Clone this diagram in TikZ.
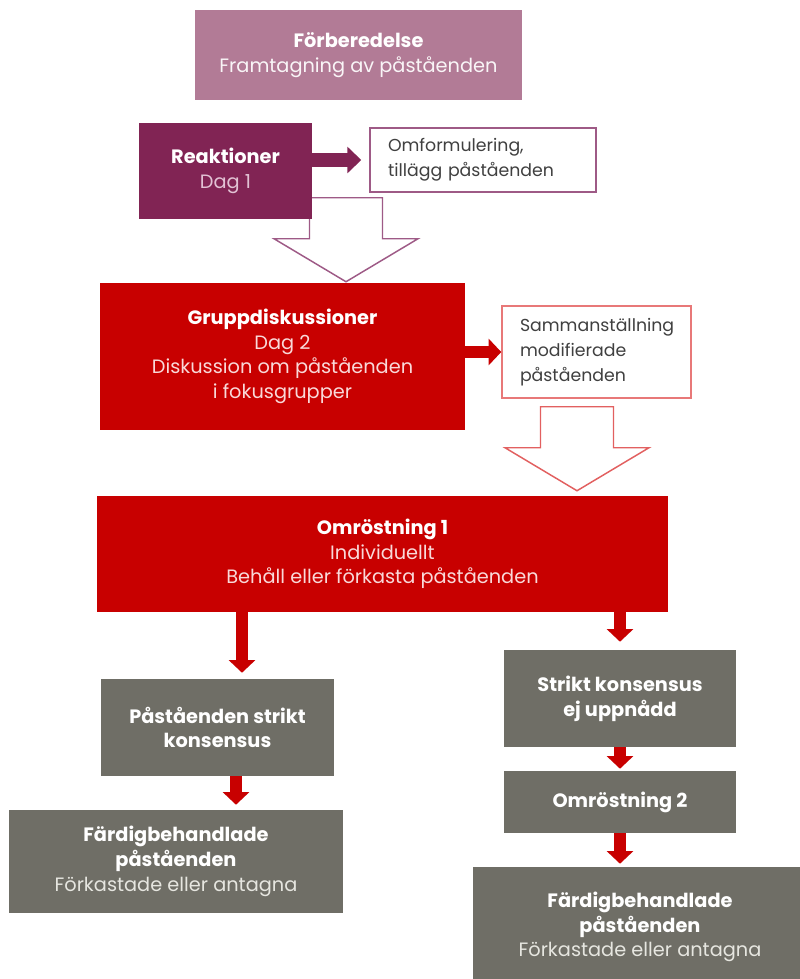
\documentclass[tikz,border=0pt]{standalone}
\usepackage{fontspec}
\setmainfont{Poppins}
\usetikzlibrary{arrows.meta,backgrounds,calc}

\definecolor{prepcol}{RGB}{178,123,150}
\definecolor{reakcol}{RGB}{129,36,84}
\definecolor{redcol}{RGB}{200,0,0}
\definecolor{graycol}{RGB}{111,110,102}
\definecolor{omfline}{RGB}{158,90,134}
\definecolor{sammline}{RGB}{232,120,120}
\definecolor{darktext}{RGB}{64,64,64}
\definecolor{pinktext}{RGB}{226,194,212}
\definecolor{rosetext}{RGB}{249,217,217}
\definecolor{lighttext}{RGB}{230,230,224}

\tikzset{
  box/.style={inner sep=0pt, align=center, font=\fontsize{14.5}{18.5}\selectfont},
  prepbox/.style={box, fill=prepcol, text=white},
  reakbox/.style={box, fill=reakcol, text=white},
  redbox/.style={box, fill=redcol, text=white},
  graybox/.style={box, fill=graycol, text=white},
  notebox/.style={box, fill=white, line width=1.1pt, text=darktext, align=left, inner xsep=13.5pt,
    font=\fontsize{13}{18.5}\selectfont},
  purplearrow/.style={draw=reakcol, line width=11pt, -{Triangle[length=10.5pt,width=19.5pt]}},
  redarrow/.style={draw=redcol, line width=9pt, -{Triangle[length=9.5pt,width=19.5pt]}},
  hollowdown/.pic={
    \draw[pic actions, fill=white, line width=1.1pt] (0,0) -- (-72,-43) -- (-36.5,-43) -- (-36.5,-84)
      -- (36.5,-84) -- (36.5,-43) -- (72,-43) -- cycle;
  }
}

\begin{document}
\begin{tikzpicture}[x=0.75pt,y=0.75pt,yscale=-1,xscale=1]
\useasboundingbox (0,0) rectangle (800,979);

% upper part
\node [prepbox, minimum width=245.25pt, minimum height=67.5pt] (prep) at (358.5,55)
  {\textbf{Förberedelse}\\{\color{white!92!prepcol}Framtagning av påståenden}};
\node [reakbox, minimum width=129.75pt, minimum height=72pt] (reak) at (225.5,171)
  {\textbf{Reaktioner}\\{\color{pinktext}Dag 1}};
\node [notebox, draw=omfline, text width=142.5pt, minimum height=48pt] (omf) at (483,160)
  {Omformulering,\\tillägg påståenden};
\node [redbox, minimum width=273.75pt, minimum height=110.25pt] (grupp) at (282.5,356.5)
  {\textbf{Gruppdiskussioner}\\{\color{rosetext}Dag 2}\\{\color{rosetext}Diskussion om påståenden}\\{\color{rosetext}i fokusgrupper}};
\node [notebox, draw=sammline, text width=114.75pt, minimum height=69pt] (samm) at (596.5,352)
  {Sammanställning\\modifierade\\påståenden};

% voting
\node [redbox, minimum width=428.25pt, minimum height=87pt] (omr1) at (382.5,554)
  {\textbf{Omröstning 1}\\{\color{rosetext}Individuellt}\\{\color{rosetext}Behåll eller förkasta påståenden}};
\node [graybox, minimum width=174.75pt, minimum height=72.75pt] (strikt) at (217.5,727.5)
  {\textbf{Påståenden strikt}\\\textbf{konsensus}};
\node [graybox, minimum width=174pt, minimum height=72.75pt] (ejupp) at (620,698.5)
  {\textbf{Strikt konsensus}\\\textbf{ej uppnådd}};
\node [graybox, minimum width=174pt, minimum height=46.5pt] (omr2) at (620,802)
  {\textbf{Omröstning 2}};
\node [graybox, minimum width=250.5pt, minimum height=77.25pt] (fardL) at (176,861.5)
  {\textbf{Färdigbehandlade}\\\textbf{påståenden}\\{\color{lighttext}Förkastade eller antagna}};
\node [graybox, minimum width=250.5pt, minimum height=90pt] (fardR) at (640,927)
  {\textbf{Färdigbehandlade}\\\textbf{påståenden}\\{\color{lighttext}Förkastade eller antagna}};

% hollow arrows behind the boxes
\coordinate (tipa) at ($(grupp.north)+(63.5,-1)$);
\coordinate (tipb) at ($(omr1.north)+(194.5,-5)$);
\begin{pgfonlayer}{background}
\pic [draw=omfline, transform shape] at (tipa) {hollowdown};
\pic [draw=sammline!80!redcol, transform shape] at (tipb) {hollowdown};
\end{pgfonlayer}

% block arrows
\draw [purplearrow] (reak.east |- omf.west) -- ($(omf.west)+(-8,0)$);
\draw [redarrow] (grupp.east |- samm.west) -- (samm.west);
\coordinate (la) at ($(strikt.north)+(24.5,-6)$);
\draw [redarrow] (la |- omr1.south) -- (la);
\coordinate (lb) at ($(strikt.south)+(18.5,0)$);
\draw [redarrow] (lb) -- ($(lb |- fardL.north)+(0,-5)$);
\draw [redarrow] (ejupp.north |- omr1.south) -- ($(ejupp.north)+(0,-8)$);
\draw [redarrow] (ejupp.south) -- ($(omr2.north)+(0,-2)$);
\draw [redarrow] (omr2.south) -- ($(omr2.south |- fardR.north)+(0,-3)$);

\end{tikzpicture}
\end{document}
